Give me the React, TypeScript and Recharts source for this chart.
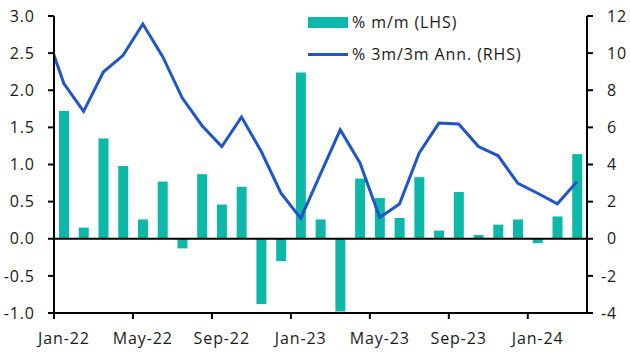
import React from 'react';
import { ComposedChart, Bar, Line, XAxis, YAxis, ReferenceLine, Legend } from 'recharts';

// Monthly categories Jan-22 .. Mar-24
const months = [
  'Jan-22', 'Feb-22', 'Mar-22', 'Apr-22', 'May-22', 'Jun-22', 'Jul-22', 'Aug-22', 'Sep-22', 'Oct-22', 'Nov-22', 'Dec-22',
  'Jan-23', 'Feb-23', 'Mar-23', 'Apr-23', 'May-23', 'Jun-23', 'Jul-23', 'Aug-23', 'Sep-23', 'Oct-23', 'Nov-23', 'Dec-23',
  'Jan-24', 'Feb-24', 'Mar-24',
];

// % m/m (LHS)
const mm = [
  1.72, 0.15, 1.35, 0.98, 0.26, 0.77, -0.13, 0.87, 0.46, 0.70, -0.88, -0.30,
  2.24, 0.26, -0.98, 0.81, 0.55, 0.28, 0.83, 0.11, 0.63, 0.05, 0.19, 0.26,
  -0.06, 0.30, 1.14,
];

// % 3m/3m annualised (RHS)
const ann = [
  8.36, 6.86, 8.98, 9.88, 11.57, 9.82, 7.58, 6.09, 4.97, 6.56, 4.70, 2.46,
  1.10, 3.50, 5.87, 4.08, 1.15, 1.87, 4.62, 6.23, 6.18, 4.97, 4.47, 2.98,
  2.45, 1.88, 3.08,
];
// Dec-21 value (only its lead-in segment is visible)
const annPrior = 11.4;

const xTickLabels = ['Jan-22', 'May-22', 'Sep-22', 'Jan-23', 'May-23', 'Sep-23', 'Jan-24'];
const xTickIdx = [0, 4, 8, 12, 16, 20, 24];
const leftTicks = [-1, -0.5, 0, 0.5, 1, 1.5, 2, 2.5, 3];
const rightTicks = [-4, -2, 0, 2, 4, 6, 8, 10, 12];

const seriesBar = '% m/m (LHS)';
const seriesLine = '% 3m/3m Ann. (RHS)';

const data = [
  { x: -0.5, ann: annPrior },
  ...months.map((m, i) => ({ x: i + 0.5, name: m, mm: mm[i], ann: ann[i] })),
];

const W = 630;
const H = 355;
const LEFT_W = 54;
const RIGHT_W = 43;
const X_H = 42;
const TOP = 16;
const FONT = '"Open Sans", "Noto Sans", sans-serif';
const LS = 0.9;
const TEXT = '#1a1a1a';
const TEAL = '#0DB8A9';
const BLUE = '#1F55C8';
const HALF_BAND = (W - LEFT_W - RIGHT_W) / months.length / 2;

const XTick = (props: any) => {
  const { x, y, payload } = props;
  const i = xTickIdx.indexOf(payload.value);
  return (
    <text x={x + HALF_BAND} y={y} dy="0.71em" textAnchor="middle" fontSize={16} fontFamily={FONT} fill={TEXT} style={{ letterSpacing: LS }}>
      {i >= 0 ? xTickLabels[i] : ''}
    </text>
  );
};

const LeftTick = (props: any) => {
  const { x, y, payload } = props;
  const v = payload.value as number;
  return (
    <text x={x + LS} y={y} dy="0.355em" textAnchor="end" fontSize={16} fontFamily={FONT} fill={TEXT} style={{ letterSpacing: LS }}>
      {v.toFixed(1)}
    </text>
  );
};

const RightTick = (props: any) => {
  const { x, y, payload } = props;
  const v = payload.value as number;
  return (
    <text x={x} y={y} dx={v < 0 ? -6 : 0} dy="0.355em" textAnchor="start" fontSize={16} fontFamily={FONT} fill={TEXT} style={{ letterSpacing: LS }}>
      {String(v)}
    </text>
  );
};

const LegendContent = () => (
  <div style={{ fontFamily: FONT, fontSize: 16, color: TEXT, lineHeight: '20px', letterSpacing: LS, whiteSpace: 'nowrap' }}>
    <div style={{ display: 'flex', alignItems: 'center', height: 20, marginTop: 1 }}>
      <div style={{ width: 40, height: 11, background: TEAL, marginRight: 4 }} />
      <span>{seriesBar}</span>
    </div>
    <div style={{ display: 'flex', alignItems: 'center', height: 20, marginTop: 12 }}>
      <div style={{ width: 40, height: 3, background: BLUE, marginRight: 4 }} />
      <span>{seriesLine}</span>
    </div>
  </div>
);

export default function App() {
  return (
    <div style={{ position: 'absolute', left: 0, top: 0, width: W, height: H, background: '#fff' }}>
      <ComposedChart width={W} height={H} data={data} margin={{ top: TOP, right: 0, bottom: 0, left: 0 }}>
        <XAxis
          dataKey="x"
          type="number"
          domain={[0, months.length]}
          ticks={xTickIdx}
          allowDataOverflow
          height={X_H}
          interval={0}
          tickSize={6}
          tickMargin={14}
          tick={<XTick />}
          axisLine={{ stroke: '#000', strokeWidth: 2 }}
          tickLine={{ stroke: '#000', strokeWidth: 2 }}
        />
        <YAxis
          yAxisId="left"
          orientation="left"
          domain={[-1, 3]}
          ticks={leftTicks}
          interval={0}
          width={LEFT_W}
          tickSize={6}
          tickMargin={14}
          tick={<LeftTick />}
          axisLine={{ stroke: '#000', strokeWidth: 2 }}
          tickLine={{ stroke: '#000', strokeWidth: 2 }}
        />
        <YAxis
          yAxisId="right"
          orientation="right"
          domain={[-4, 12]}
          ticks={rightTicks}
          interval={0}
          width={RIGHT_W}
          tickSize={6}
          tickMargin={14}
          tick={<RightTick />}
          axisLine={{ stroke: '#000', strokeWidth: 2 }}
          tickLine={{ stroke: '#000', strokeWidth: 2 }}
        />
        <Legend
          layout="vertical"
          align="center"
          verticalAlign="middle"
          content={<LegendContent />}
          wrapperStyle={{ left: 308, top: 11, width: 300 }}
        />
        <Bar yAxisId="left" dataKey="mm" name={seriesBar} fill={TEAL} barSize={10} isAnimationActive={false} />
        <ReferenceLine yAxisId="left" y={0} stroke="#000" strokeWidth={2} />
        <Line
          yAxisId="right"
          dataKey="ann"
          name={seriesLine}
          type="linear"
          stroke={BLUE}
          strokeWidth={3}
          dot={false}
          activeDot={false}
          isAnimationActive={false}
        />
      </ComposedChart>
    </div>
  );
}
